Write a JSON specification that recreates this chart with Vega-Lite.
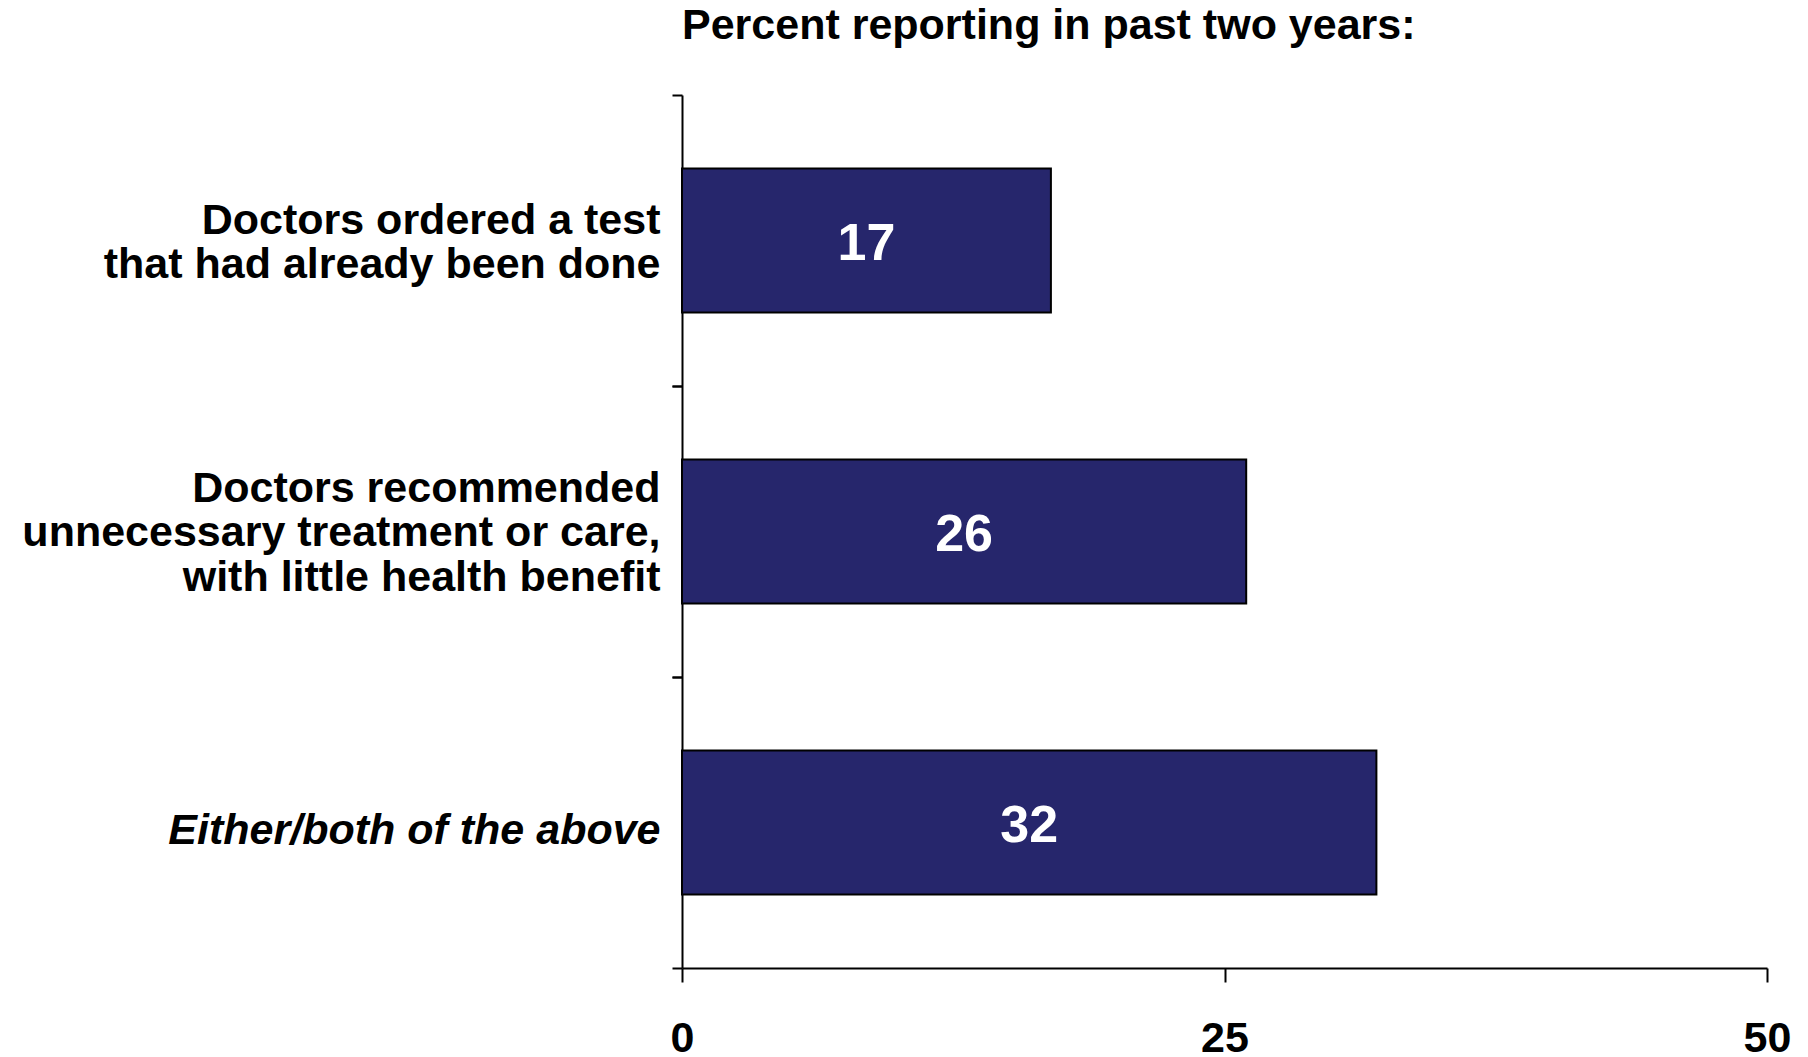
{
  "$schema": "https://vega.github.io/schema/vega-lite/v6.json",
  "autosize": {"type": "none"},
  "width": 1085,
  "height": 873,
  "padding": {"left": 682, "top": 95, "right": 41, "bottom": 89},
  "background": "white",
  "config": {"view": {"stroke": null}, "font": "Liberation Sans"},
  "title": {"text": "Percent reporting in past two years:", "anchor": "start", "frame": "group", "fontSize": 43, "fontWeight": "bold", "color": "black", "offset": 46, "font": "Liberation Sans"},
  "data": {"values": [
    {"item": "Doctors ordered a test|that had already been done", "value": 17},
    {"item": "Doctors recommended|unnecessary treatment or care,|with little health benefit", "value": 26},
    {"item": "Either/both of the above", "value": 32}
  ]},
  "resolve": {"axis": {"y": "independent"}},
  "layer": [
    {
      "mark": {"type": "bar", "height": {"band": 0.495}, "fill": "#26266c", "stroke": "black", "strokeWidth": 2},
      "encoding": {
        "y": {
          "field": "item", "type": "nominal", "sort": null,
          "scale": {"paddingInner": 0, "paddingOuter": 0},
          "axis": {
            "orient": "left",
            "title": null,
            "labelExpr": "split(datum.label, '|')",
            "labelFontSize": 43, "labelFontWeight": "bold", "labelColor": "black",
            "labelLineHeight": 44.5, "labelPadding": 12, "labelLimit": 0,
            "labelFontStyle": {"condition": {"test": "indexof(datum.value, 'Either') == 0", "value": "italic"}, "value": "normal"},
            "labelOffset": {"condition": [
              {"test": "indexof(datum.value, 'Doctors recommended') == 0", "value": -43},
              {"test": "indexof(datum.value, 'Doctors ordered') == 0", "value": -20}
            ], "value": 8},
            "tickSize": 10, "tickColor": "black", "tickWidth": 2,
            "domainColor": "black", "domainWidth": 2,
            "bandPosition": 0, "grid": false
          }
        },
        "x": {
          "field": "value", "type": "quantitative",
          "scale": {"domain": [0, 50]},
          "axis": {
            "title": null, "values": [0, 25, 50], "grid": false,
            "labelFontSize": 43, "labelFontWeight": "bold", "labelColor": "black",
            "labelPadding": 35, "labelFlush": false,
            "tickSize": 14, "tickColor": "black", "tickWidth": 2,
            "domainColor": "black", "domainWidth": 2
          }
        }
      }
    },
    {
      "mark": {"type": "text", "color": "white", "fontSize": 52, "fontWeight": "bold", "baseline": "middle", "align": "center", "dy": 3},
      "encoding": {
        "y": {
          "field": "item", "type": "nominal", "sort": null,
          "axis": {"orient": "left", "title": null, "labels": false, "domain": false, "grid": false,
                   "bandPosition": 1, "tickSize": 10, "tickColor": "black", "tickWidth": 2}
        },
        "x": {"field": "value", "type": "quantitative", "stack": "zero", "bandPosition": 0.5},
        "detail": {"field": "item", "type": "nominal"},
        "text": {"field": "value", "type": "quantitative"}
      }
    }
  ]
}
